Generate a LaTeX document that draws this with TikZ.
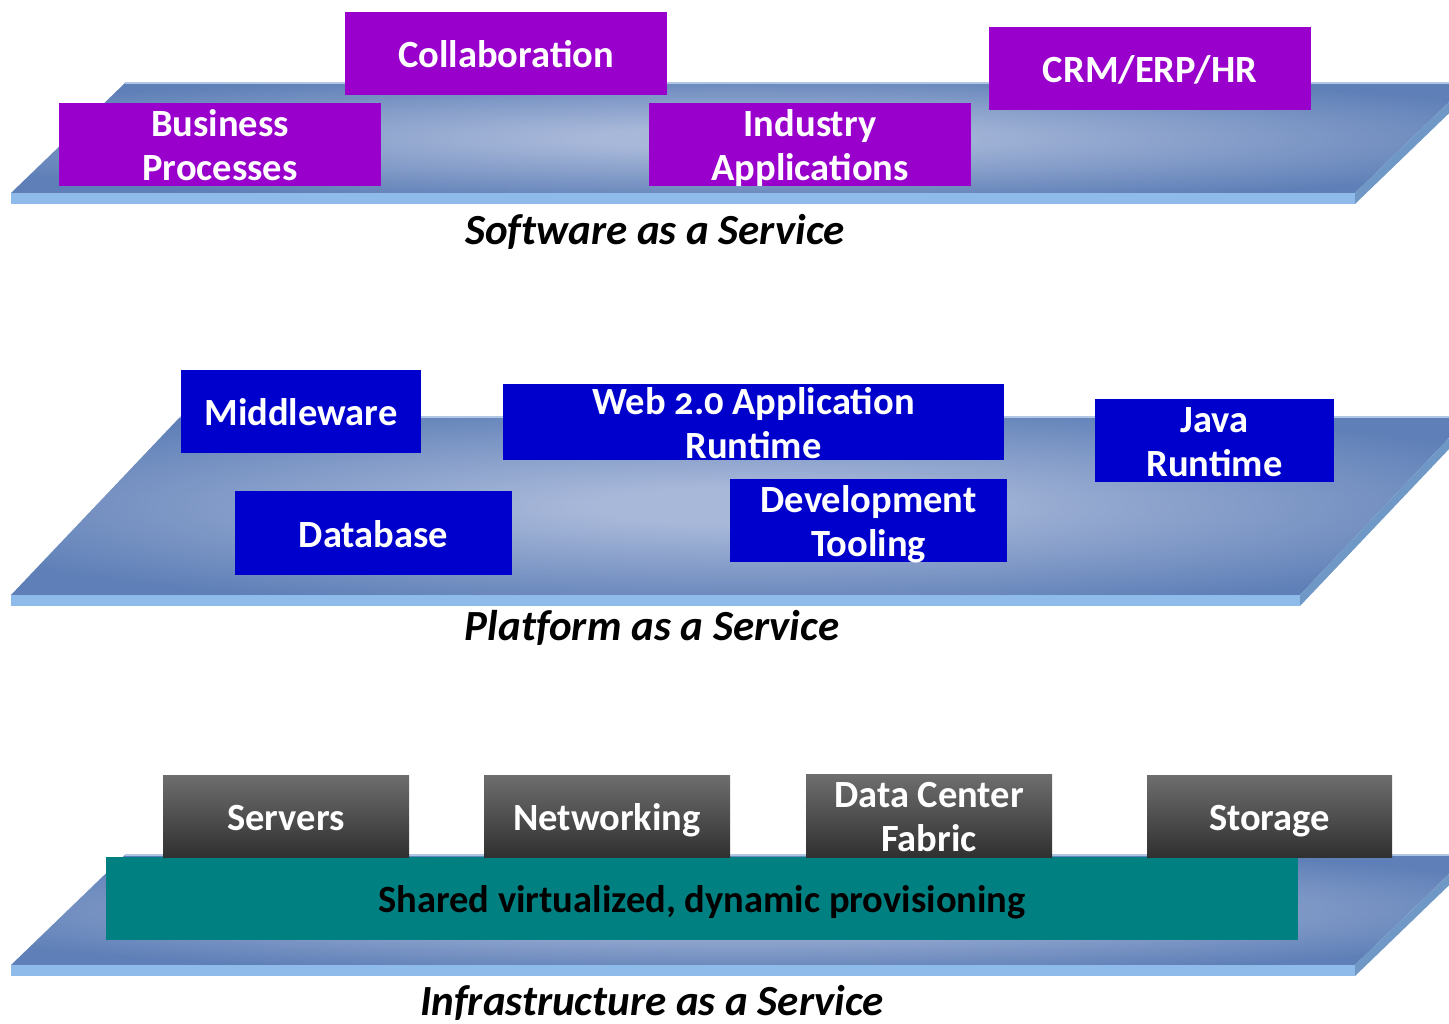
\documentclass[tikz,border=0pt]{standalone}
\usepackage{fontspec}
\setmainfont{Carlito}
\definecolor{decklo}{RGB}{94,127,183}
\definecolor{deckhi}{RGB}{168,184,217}
\definecolor{deckfront}{RGB}{142,187,234}
\definecolor{deckside}{RGB}{112,152,198}
\definecolor{deckrim}{RGB}{176,198,228}
\definecolor{saaspurple}{RGB}{153,0,204}
\definecolor{paasblue}{RGB}{0,0,204}
\definecolor{iaasteal}{RGB}{0,128,128}
\definecolor{graytop}{RGB}{110,110,110}
\definecolor{graybot}{RGB}{48,48,48}
\pgfdeclareradialshading{deckglow}{\pgfpoint{0bp}{0bp}}{color(0bp)=(deckhi); color(5bp)=(deckhi); color(30bp)=(decklo); color(50bp)=(decklo)}
\begin{document}
\begin{tikzpicture}[x=1pt,y=-1pt,
  boxfont/.style={font=\fontsize{38.5}{44}\selectfont\bfseries},
  oneline/.style={text height=28pt, text depth=0pt},
  twoline/.style={text height=72pt, text depth=0pt},
  tile/.style={boxfont, inner sep=0pt, align=center, text=white},
  saasbox/.style={tile, fill=saaspurple, minimum height=83pt},
  paasbox/.style={tile, fill=paasblue, minimum height=83pt},
  iaasbox/.style={tile, top color=graytop, bottom color=graybot, minimum width=246pt, minimum height=82pt},
  layerlabel/.style={font=\fontsize{43}{50}\selectfont\bfseries\itshape\addfontfeatures{Ligatures=NoCommon}, text=black, inner sep=0pt, text height=30pt, text depth=0pt},
  decktop/.style={shading=deckglow},
  deckfrontface/.style={fill=deckfront},
  decksideface/.style={fill=deckside},
  deckedge/.style={draw=deckrim, line width=1.2pt}
]
\useasboundingbox (0,0) rectangle (1449,1024);

\begin{scope}
\clip (0,0) rectangle (1449,1024);
% ---- software layer deck ----
\shade[decktop] (11,193) -- (125,83) -- (1469,83) -- (1355,193) -- cycle;
\draw[deckedge] (125,83) -- (1469,83);
\fill[deckfrontface] (11,193) rectangle (1355,204);
\fill[decksideface] (1355,193) -- (1469,83) -- (1469,94) -- (1355,204) -- cycle;
% ---- platform layer deck ----
\shade[decktop] (11,595) -- (180,417) -- (1469,417) -- (1300,595) -- cycle;
\draw[deckedge] (180,417) -- (1469,417);
\fill[deckfrontface] (11,595) rectangle (1300,606);
\fill[decksideface] (1300,595) -- (1469,417) -- (1469,428) -- (1300,606) -- cycle;
% ---- infrastructure layer deck ----
\shade[decktop] (11,965) -- (125,855) -- (1469,855) -- (1355,965) -- cycle;
\draw[deckedge] (125,855) -- (1469,855);
\fill[deckfrontface] (11,965) rectangle (1355,976);
\fill[decksideface] (1355,965) -- (1469,855) -- (1469,866) -- (1355,976) -- cycle;
\end{scope}

% ---- software as a service ----
\node[saasbox, oneline, minimum width=322pt] (collab) at (506,53.5) {Collaboration};
\node[saasbox, twoline, minimum width=322pt] (bizproc) at (220,144.5) {Business\\Processes};
\node[saasbox, twoline, minimum width=322pt] (industry) at (810,144.5) {Industry\\Applications};
\node[saasbox, oneline, minimum width=322pt] (crm) at (1150,68.5) {CRM/ERP/HR};
\node[layerlabel] (saas) at (655,230) {Software as a Service};

% ---- platform as a service ----
\node[paasbox, oneline, minimum width=240pt] (middleware) at (301,411.5) {Middleware};
\node[paasbox, twoline, minimum width=501pt, minimum height=76pt] (webrt) at (753.5,422) {\addfontfeatures{Numbers=OldStyle}Web 2.0 Application\\Runtime};
\node[paasbox, twoline, minimum width=239pt] (javart) at (1214.5,440.5) {Java\\Runtime};
\node[paasbox, oneline, minimum width=277pt, minimum height=84pt] (database) at (373.5,533) {Database};
\node[paasbox, twoline, minimum width=277pt] (devtool) at (868.5,520.5) {Development\\Tooling};
\node[layerlabel] (paas) at (652,625) {Platform as a Service};

% ---- infrastructure as a service ----
\node[boxfont, oneline, fill=iaasteal, text=black, inner sep=0pt, minimum width=1192pt, minimum height=83pt] (shared) at (702,898.5) {Shared virtualized, dynamic provisioning};
\node[iaasbox, oneline] (servers) at (286,816) {Servers};
\node[iaasbox, oneline] (networking) at (607,816) {Networking};
\node[iaasbox, twoline, minimum height=83pt] (fabric) at (929,815.5) {Data Center\\Fabric};
\node[iaasbox, oneline, minimum width=245pt] (storage) at (1269.5,816) {Storage};
\node[layerlabel] (iaas) at (652,1000) {Infrastructure as a Service};
\end{tikzpicture}
\end{document}
